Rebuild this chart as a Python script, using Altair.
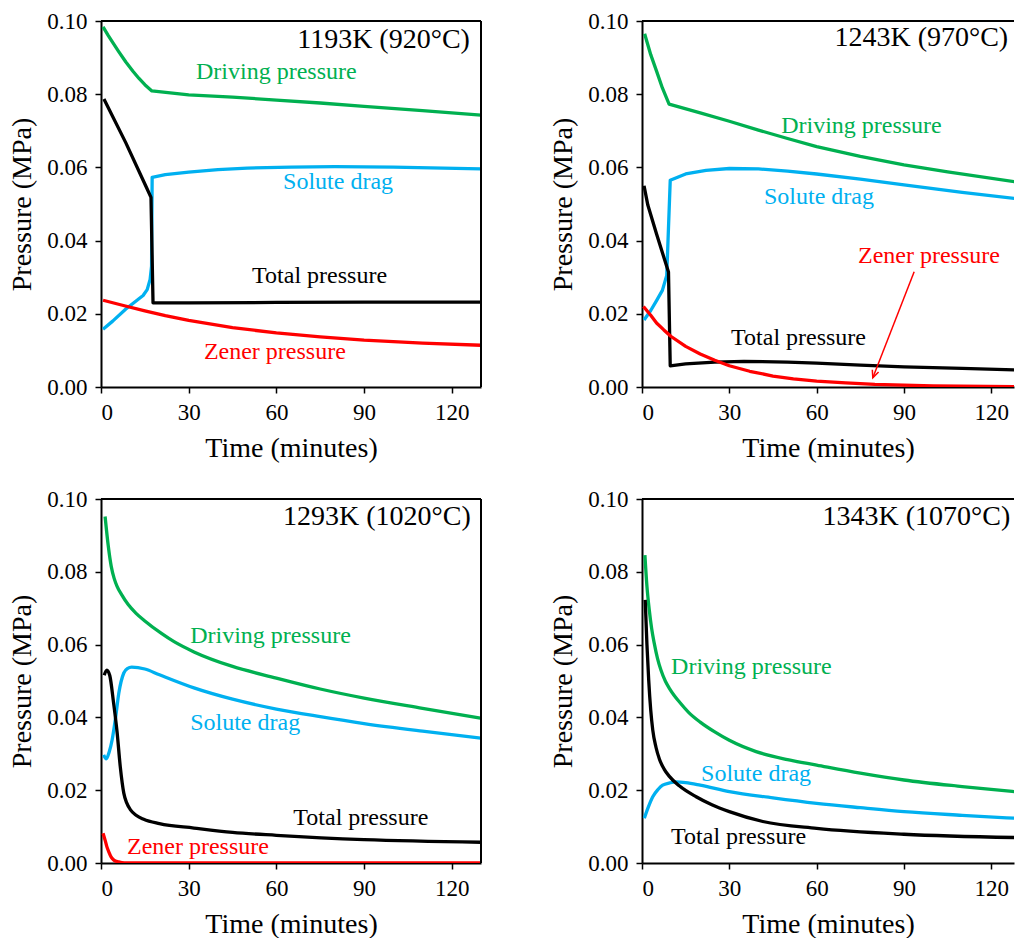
import altair as alt
import pandas as pd

FONT = "Liberation Serif"
SERIES = ["Driving pressure", "Solute drag", "Total pressure", "Zener pressure"]
COLORS = ["#00B050", "#00B0F0", "#000000", "#FF0000"]
X_TICKS = [0, 30, 60, 90, 120]
Y_TICKS = [0.0, 0.02, 0.04, 0.06, 0.08, 0.10]
Y_MAX = 0.10

# ---------------- Panel 1: 1193K (920°C) ----------------
P1_DRIVING_T = [0.7, 2.5, 4.1, 6, 8.5, 11, 13, 15, 17.4, 30, 45, 60, 75, 90, 110, 130]
P1_DRIVING_V = [0.0984, 0.0960, 0.0940, 0.0917, 0.0888, 0.0862, 0.0843, 0.0826, 0.0809,
                0.0798, 0.0792, 0.0784, 0.0776, 0.0767, 0.0755, 0.0743]
P1_SOLUTE_T = [0.7, 4, 8.5, 12, 14.4, 15.8, 16.8, 17.3, 17.5, 22, 30, 40, 50, 65, 80, 100, 130]
P1_SOLUTE_V = [0.0158, 0.0180, 0.0213, 0.0235, 0.0250, 0.0266, 0.0294, 0.0330, 0.0573,
               0.0580, 0.0587, 0.0594, 0.0598, 0.0601, 0.0602, 0.0601, 0.0596]
P1_TOTAL_T = [1.0, 8.5, 15.4, 17.1, 17.8, 30, 60, 90, 130]
P1_TOTAL_V = [0.0787, 0.0667, 0.0548, 0.0518, 0.0230, 0.0230, 0.0231, 0.0232, 0.0232]
P1_ZENER_T = [0.7, 8, 15, 22, 30, 45, 60, 75, 90, 110, 130]
P1_ZENER_V = [0.0237, 0.0222, 0.0208, 0.0195, 0.0182, 0.0162, 0.0148, 0.0137, 0.0128, 0.0120, 0.0114]

# ---------------- Panel 2: 1243K (970°C) ----------------
P2_DRIVING_T = [0.9, 2, 3, 5, 7, 9.3, 20, 30, 40, 50, 60, 75, 90, 105, 128]
P2_DRIVING_V = [0.0965, 0.0935, 0.0908, 0.0863, 0.0817, 0.0773, 0.0749, 0.0726, 0.0702,
                0.0679, 0.0657, 0.0630, 0.0607, 0.0588, 0.0561]
P2_SOLUTE_T = [0.7, 3, 5, 7, 8.5, 9.7, 15, 22, 30, 40, 50, 60, 75, 90, 110, 128]
P2_SOLUTE_V = [0.0183, 0.0209, 0.0236, 0.0264, 0.0305, 0.0565, 0.0582, 0.0592, 0.0597,
               0.0596, 0.0590, 0.0582, 0.0568, 0.0552, 0.0532, 0.0515]
P2_TOTAL_T = [0.7, 2, 5, 9.1, 9.7, 15, 25, 35, 50, 60, 75, 90, 110, 128]
P2_TOTAL_V = [0.0550, 0.0497, 0.0418, 0.0314, 0.0058, 0.0063, 0.0068, 0.0070, 0.0068,
              0.0065, 0.0060, 0.0055, 0.0051, 0.0047]
P2_ZENER_T = [0.5, 3, 5, 7.5, 10, 15, 20, 25, 30, 37, 45, 52, 60, 70, 80, 100, 128]
P2_ZENER_V = [0.0220, 0.0196, 0.0175, 0.0156, 0.0138, 0.0111, 0.0090, 0.0073, 0.0058,
              0.0043, 0.0030, 0.0022, 0.0016, 0.0011, 0.0007, 0.0003, 0.0001]

# ---------------- Panel 3: 1293K (1020°C) ----------------
P3_DRIVING_T = [1.4, 2.5, 3.5, 4.5, 5.5, 7, 9.3, 12, 15, 20.8, 25, 31.8, 45, 60, 75, 90, 110, 130]
P3_DRIVING_V = [0.0952, 0.0870, 0.0815, 0.0782, 0.0760, 0.0738, 0.0710, 0.0686, 0.0665,
                0.0630, 0.0608, 0.0580, 0.0540, 0.0508, 0.0478, 0.0453, 0.0425, 0.0398]
P3_SOLUTE_T = [0.9, 1.8, 2.8, 3.8, 5, 6.1, 7.8, 9, 10.5, 15, 20, 31.8, 45, 60, 75, 90, 110, 130]
P3_SOLUTE_V = [0.0297, 0.0286, 0.0305, 0.0338, 0.0400, 0.0467, 0.0522, 0.0534, 0.0538,
               0.0533, 0.0517, 0.0481, 0.0450, 0.0423, 0.0402, 0.0383, 0.0362, 0.0343]
P3_TOTAL_T = [1.1, 2.0, 3, 4.3, 5.5, 6.6, 7.8, 8.8, 10.1, 12, 14.6, 20, 31.8, 45, 60, 90, 130]
P3_TOTAL_V = [0.0516, 0.0530, 0.0515, 0.0440, 0.0360, 0.0264, 0.0192, 0.0165, 0.0146,
              0.0131, 0.0120, 0.0108, 0.0096, 0.0084, 0.0076, 0.0064, 0.0057]
P3_ZENER_T = [0.7, 1.5, 2.0, 2.7, 3.5, 4.4, 6, 8, 130]
P3_ZENER_V = [0.0082, 0.0060, 0.0045, 0.0030, 0.0016, 0.0008, 0.0003, 0.0, 0.0]

# ---------------- Panel 4: 1343K (1070°C) ----------------
P4_DRIVING_T = [1.0, 1.7, 2.5, 3.3, 4.2, 5.3, 6.5, 8, 9.4, 11, 12.8, 16, 20, 25, 30, 39.2,
                50, 60, 75, 90, 110, 128]
P4_DRIVING_V = [0.0846, 0.0760, 0.0695, 0.0645, 0.0604, 0.0563, 0.0530, 0.0500, 0.0480,
                0.0461, 0.0443, 0.0414, 0.0387, 0.0360, 0.0337, 0.0306, 0.0284, 0.0269,
                0.0247, 0.0228, 0.0210, 0.0196]
P4_SOLUTE_T = [0.8, 2, 3.7, 5.5, 7.1, 9.5, 11.7, 15, 20, 30, 45, 60, 75, 90, 110, 128]
P4_SOLUTE_V = [0.0123, 0.0150, 0.0182, 0.0202, 0.0214, 0.0220, 0.0223, 0.0221, 0.0214,
               0.0196, 0.0179, 0.0164, 0.0152, 0.0141, 0.0131, 0.0123]
P4_TOTAL_T = [1.1, 1.7, 2.3, 3.0, 3.7, 4.8, 6.0, 7.6, 9.4, 12.8, 18.6, 24, 30, 41.5, 60, 90, 128]
P4_TOTAL_V = [0.0723, 0.0600, 0.0503, 0.0420, 0.0365, 0.0318, 0.0285, 0.0258, 0.0238,
              0.0212, 0.0182, 0.0160, 0.0141, 0.0114, 0.0095, 0.0079, 0.0070]

# ---------------- Annotations ----------------
PANEL_TITLES = ["1193K (920°C)", "1243K (970°C)", "1293K (1020°C)", "1343K (1070°C)"]
TITLE_X = [126.2, 125.8, 126.5, 126.5]
TITLE_Y = [0.0948, 0.0953, 0.0951, 0.0951]

P1_LABEL_X = [32.5, 62.3, 51.7, 35.2]
P1_LABEL_Y = [0.0861, 0.0559, 0.0302, 0.0095]
P2_LABEL_X = [47.8, 41.9, 30.6, 74.2]
P2_LABEL_Y = [0.0712, 0.0518, 0.0134, 0.0359]
P3_LABEL_X = [30.5, 30.5, 65.8, 8.9]
P3_LABEL_Y = [0.0624, 0.0385, 0.0124, 0.0044]
P4_LABEL_X = [10.0, 20.3, 10.0]
P4_LABEL_Y = [0.0538, 0.0245, 0.0071]

# arrow in panel 2 (from label to Zener curve)
ARROW_X = [93.5, 79.3]
ARROW_Y = [0.0315, 0.0025]
ARROW_HEAD_ANGLE = 20.6

X_MAX_LEFT = 130
X_MAX_RIGHT = 127.8


def series_frame(parts):
    rows = []
    for name, ts, vs in parts:
        for t, v in zip(ts, vs):
            rows.append({"series": name, "t": t, "v": v})
    return pd.DataFrame(rows)


def label_frame(names, xs, ys):
    return pd.DataFrame({"series": names, "x": xs, "y": ys})


color_scale = alt.Scale(domain=SERIES, range=COLORS)


def panel(df, labels, title, tx, ty, xmax, width, height, right_border, interp, arrow=False):
    xs = alt.Scale(domain=[0, xmax], nice=False, zero=False)
    ys = alt.Scale(domain=[0, Y_MAX], nice=False)
    xaxis = alt.Axis(values=X_TICKS, title="Time (minutes)", format="d")
    yaxis = alt.Axis(values=Y_TICKS, title="Pressure (MPa)", format=".2f")
    lines = alt.Chart(df).mark_line(strokeWidth=3.3, clip=True, interpolate=interp,
                                    strokeJoin="round").encode(
        x=alt.X("t:Q", scale=xs, axis=xaxis),
        y=alt.Y("v:Q", scale=ys, axis=yaxis),
        color=alt.Color("series:N", scale=color_scale, legend=None),
    )
    texts = alt.Chart(labels).mark_text(align="left", baseline="middle", font=FONT, fontSize=24).encode(
        x=alt.X("x:Q", scale=xs),
        y=alt.Y("y:Q", scale=ys),
        text="series:N",
        color=alt.Color("series:N", scale=color_scale, legend=None),
    )
    ttl = alt.Chart(pd.DataFrame({"x": [tx], "y": [ty], "label": [title]})).mark_text(
        align="right", baseline="middle", font=FONT, fontSize=28, color="black"
    ).encode(x=alt.X("x:Q", scale=xs), y=alt.Y("y:Q", scale=ys), text="label:N")
    top = alt.Chart(pd.DataFrame({"y": [Y_MAX]})).mark_rule(color="black", strokeWidth=2).encode(
        y=alt.Y("y:Q", scale=ys)
    )
    layers = [lines, texts, ttl, top]
    if right_border:
        right = alt.Chart(pd.DataFrame({"x": [xmax]})).mark_rule(color="black", strokeWidth=2).encode(
            x=alt.X("x:Q", scale=xs)
        )
        layers.append(right)
    if arrow:
        adf = pd.DataFrame({"x": ARROW_X, "y": ARROW_Y})
        shaft = alt.Chart(adf).mark_line(color="#FF0000", strokeWidth=1.5).encode(
            x=alt.X("x:Q", scale=xs), y=alt.Y("y:Q", scale=ys)
        )
        head = alt.Chart(pd.DataFrame({"x": [ARROW_X[-1]], "y": [ARROW_Y[-1]]})).mark_point(
            shape="M-0.45,-1L0,0L0.45,-1", filled=False, color="#FF0000", strokeWidth=1.5,
            size=220, angle=ARROW_HEAD_ANGLE, opacity=1
        ).encode(x=alt.X("x:Q", scale=xs), y=alt.Y("y:Q", scale=ys))
        layers += [shaft, head]
    return alt.layer(*layers).properties(width=width, height=height)


p1 = panel(
    series_frame([
        ("Driving pressure", P1_DRIVING_T, P1_DRIVING_V),
        ("Solute drag", P1_SOLUTE_T, P1_SOLUTE_V),
        ("Total pressure", P1_TOTAL_T, P1_TOTAL_V),
        ("Zener pressure", P1_ZENER_T, P1_ZENER_V),
    ]),
    label_frame(SERIES, P1_LABEL_X, P1_LABEL_Y),
    PANEL_TITLES[0], TITLE_X[0], TITLE_Y[0], X_MAX_LEFT, 380, 366, True, "linear",
)
p2 = panel(
    series_frame([
        ("Driving pressure", P2_DRIVING_T, P2_DRIVING_V),
        ("Solute drag", P2_SOLUTE_T, P2_SOLUTE_V),
        ("Total pressure", P2_TOTAL_T, P2_TOTAL_V),
        ("Zener pressure", P2_ZENER_T, P2_ZENER_V),
    ]),
    label_frame(SERIES, P2_LABEL_X, P2_LABEL_Y),
    PANEL_TITLES[1], TITLE_X[1], TITLE_Y[1], X_MAX_RIGHT, 372, 366, False, "linear", arrow=True,
)
p3 = panel(
    series_frame([
        ("Driving pressure", P3_DRIVING_T, P3_DRIVING_V),
        ("Solute drag", P3_SOLUTE_T, P3_SOLUTE_V),
        ("Total pressure", P3_TOTAL_T, P3_TOTAL_V),
        ("Zener pressure", P3_ZENER_T, P3_ZENER_V),
    ]),
    label_frame(SERIES, P3_LABEL_X, P3_LABEL_Y),
    PANEL_TITLES[2], TITLE_X[2], TITLE_Y[2], X_MAX_LEFT, 380, 364, True, "monotone",
)
p4 = panel(
    series_frame([
        ("Driving pressure", P4_DRIVING_T, P4_DRIVING_V),
        ("Solute drag", P4_SOLUTE_T, P4_SOLUTE_V),
        ("Total pressure", P4_TOTAL_T, P4_TOTAL_V),
    ]),
    label_frame(SERIES[:3], P4_LABEL_X, P4_LABEL_Y),
    PANEL_TITLES[3], TITLE_X[3], TITLE_Y[3], X_MAX_RIGHT, 372, 364, False, "monotone",
)

chart = alt.vconcat(
    alt.hconcat(p1, p2, spacing=67),
    alt.hconcat(p3, p4, spacing=67),
    spacing=26,
).properties(
    padding={"left": 8, "top": 10, "right": 0, "bottom": 0},
    background="white",
).configure_view(stroke=None).configure_axis(
    labelFont=FONT, titleFont=FONT, labelFontSize=23, titleFontSize=28,
    titleFontWeight="normal", labelColor="black", titleColor="black",
    domainColor="black", domainWidth=2, tickColor="black", tickWidth=1.5,
    tickSize=6, grid=False, labelPadding=8, titlePadding=10,
)

chart.save("out.html", embed_options={"renderer": "svg", "actions": False})
